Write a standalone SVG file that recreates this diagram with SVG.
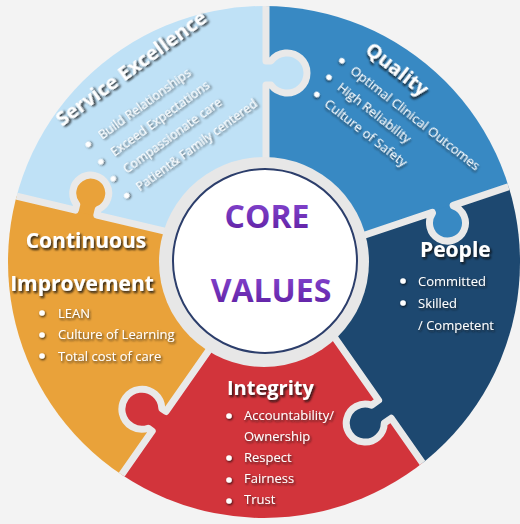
<svg xmlns="http://www.w3.org/2000/svg" width="520" height="524" viewBox="0 0 520 524">
<defs>
<style>
.t{font-family:"Open Sans","Liberation Sans",sans-serif;fill:#fff;filter:url(#ts)}
.h{font-weight:700;font-size:20px;filter:url(#hs)}
.b{font-size:13px}
.seam{fill:none;stroke:#e9e9e9;stroke-width:7;stroke-linejoin:round}
.dot{fill:#fff;filter:url(#ds)}
.cv{font-family:"Open Sans","Liberation Sans",sans-serif;font-weight:700;font-size:32px;fill:url(#pg);text-anchor:middle}
</style>
<filter id="ts" x="-10%" y="-40%" width="125%" height="190%"><feDropShadow dx="1.2" dy="1.6" stdDeviation="0.9" flood-color="#1a1a1a" flood-opacity="0.8"/></filter>
<filter id="hs" x="-10%" y="-40%" width="125%" height="190%"><feDropShadow dx="1.5" dy="2" stdDeviation="1" flood-color="#111" flood-opacity="0.9"/></filter>
<filter id="ds" x="-100%" y="-100%" width="300%" height="300%"><feDropShadow dx="0.8" dy="1.2" stdDeviation="0.8" flood-color="#000" flood-opacity="0.8"/></filter>
<linearGradient id="pg" x1="0" y1="0" x2="0" y2="1"><stop offset="0" stop-color="#8a4bd6"/><stop offset="1" stop-color="#5b1c9e"/></linearGradient>
<clipPath id="disc"><circle cx="264" cy="262" r="256"/></clipPath>
<path id="k1" d="M75 -1V5A20 20 0 1 0 99 5V-1Z"/>
<path id="k2" d="M71 -1V0.75A18 18 0 1 0 93 0.75V-1Z"/>
<path id="k3" d="M76 -1V8.5A19 19 0 1 0 98 8.5V-1Z"/>
<path id="k4" d="M75 -1V5A20 20 0 1 0 99 5V-1Z"/>
<path id="k5" d="M69 -1V5.75A18 18 0 1 0 91 5.75V-1Z"/>
<mask id="mse" maskUnits="userSpaceOnUse" x="0" y="0" width="520" height="524"><rect width="520" height="524" fill="#fff"/><use href="#k5" transform="translate(164,231) rotate(193.3)" fill="#000"/></mask>
</defs>
<rect width="520" height="524" fill="#f3f3f3"/>

<g id="continuous-improvement">
<path clip-path="url(#disc)" fill="#e9a23a" d="M264 262L209 350L37 596L-300 700L-128 162L164 231Z"/>
<use href="#k5" transform="translate(164,231) rotate(193.3)" fill="#e9a23a"/>
</g>
<g id="integrity">
<path clip-path="url(#disc)" fill="#d2343b" d="M264 262L335 338L507 584L37 596L209 350Z"/>
<use href="#k4" transform="translate(209,350) rotate(125)" fill="#d2343b"/>
</g>
<g id="people">
<path clip-path="url(#disc)" fill="#1d4870" d="M264 262L365 235L649 139L800 800L507 584L335 338Z"/>
<use href="#k3" transform="translate(335,338) rotate(55)" fill="#1d4870"/>
</g>
<g id="quality">
<path clip-path="url(#disc)" fill="#3889c3" d="M264 262L266 160L266 -140L800 -140L649 139L365 235Z"/>
<use href="#k2" transform="translate(365,235) rotate(-18.6)" fill="#3889c3"/>
</g>
<g id="service-excellence">
<g mask="url(#mse)"><path clip-path="url(#disc)" fill="#bfe1f6" d="M264 262L164 231L-128 162L-300 -140L266 -140L266 160Z"/></g>
<use href="#k1" transform="translate(266,160) rotate(-90)" fill="#bfe1f6"/>
</g>

<g id="seams" clip-path="url(#disc)">
<path class="seam" transform="translate(266,160) rotate(-90)" d="M-4 0H75V5A20 20 0 1 0 99 5V0H300"/>
<path class="seam" transform="translate(365,235) rotate(-18.6)" d="M-4 0H71V0.75A18 18 0 1 0 93 0.75V0H300"/>
<path class="seam" transform="translate(335,338) rotate(55)" d="M-4 0H76V8.5A19 19 0 1 0 98 8.5V0H300"/>
<path class="seam" transform="translate(209,350) rotate(125)" d="M-4 0H75V5A20 20 0 1 0 99 5V0H300"/>
<path class="seam" transform="translate(164,231) rotate(193.3)" d="M-4 0H69V5.75A18 18 0 1 0 91 5.75V0H300"/>
</g>

<g id="service-excellence-text" transform="translate(62,127) rotate(-36)">
<text class="t h" x="0" y="0">Service Excellence</text>
<circle class="dot" cx="11" cy="29.5" r="2.8"/>
<circle class="dot" cx="11" cy="51" r="2.8"/>
<circle class="dot" cx="11" cy="72" r="2.8"/>
<circle class="dot" cx="12" cy="93.5" r="2.8"/>
<text class="t" style="font-size:12.5px" x="25" y="34">Build Relationships</text>
<text class="t" style="font-size:12.5px" x="25" y="55">Exceed Expectations</text>
<text class="t" style="font-size:12.5px" x="25" y="76">Compassionate care</text>
<text class="t" style="font-size:12.5px" x="25" y="98">Patient&amp; Family centered</text>
</g>

<g id="quality-text" transform="translate(364,52) rotate(38)">
<text class="t h" x="0" y="0">Quality</text>
<circle class="dot" cx="-12" cy="20.5" r="2.8"/>
<circle class="dot" cx="-12" cy="41.5" r="2.8"/>
<circle class="dot" cx="-11" cy="62.5" r="2.8"/>
<text class="t b" x="1" y="25">Optimal Clinical Outcomes</text>
<text class="t b" x="1" y="46">High Reliability</text>
<text class="t b" x="1" y="67">Culture of Safety</text>
</g>

<g id="people-text">
<text class="t h" style="font-size:21px" x="420" y="257">People</text>
<circle class="dot" cx="403" cy="281" r="2.8"/>
<circle class="dot" cx="403" cy="303" r="2.8"/>
<text class="t b" x="418" y="286">Committed</text>
<text class="t b" x="418" y="308">Skilled</text>
<text class="t b" x="418" y="330">/ Competent</text>
</g>

<g id="continuous-improvement-text">
<text class="t h" style="font-size:21px;text-anchor:middle" x="86" y="248">Continuous</text>
<text class="t h" style="font-size:21px;text-anchor:middle" x="82" y="291">Improvement</text>
<circle class="dot" cx="42" cy="313" r="2.8"/>
<circle class="dot" cx="42" cy="335" r="2.8"/>
<circle class="dot" cx="42" cy="356" r="2.8"/>
<text class="t b" x="58" y="318">LEAN</text>
<text class="t b" x="58" y="339">Culture of Learning</text>
<text class="t b" x="58" y="361">Total cost of care</text>
</g>

<g id="integrity-text">
<text class="t h" x="227" y="395">Integrity</text>
<circle class="dot" cx="229" cy="416" r="2.8"/>
<circle class="dot" cx="229" cy="458" r="2.8"/>
<circle class="dot" cx="229" cy="480" r="2.8"/>
<circle class="dot" cx="229" cy="501" r="2.8"/>
<text class="t b" x="244" y="420">Accountability/</text>
<text class="t b" x="244" y="441">Ownership</text>
<text class="t b" x="244" y="462">Respect</text>
<text class="t b" x="244" y="483">Fairness</text>
<text class="t b" x="244" y="504">Trust</text>
</g>

<g id="core-values">
<circle cx="264" cy="262" r="105" fill="#e7e7e7"/>
<circle cx="265" cy="261" r="92" fill="#fff" stroke="#2c3e6b" stroke-width="2"/>
<text class="cv" x="267" y="228">CORE</text>
<text class="cv" x="271" y="302">VALUES</text>
</g>
</svg>
